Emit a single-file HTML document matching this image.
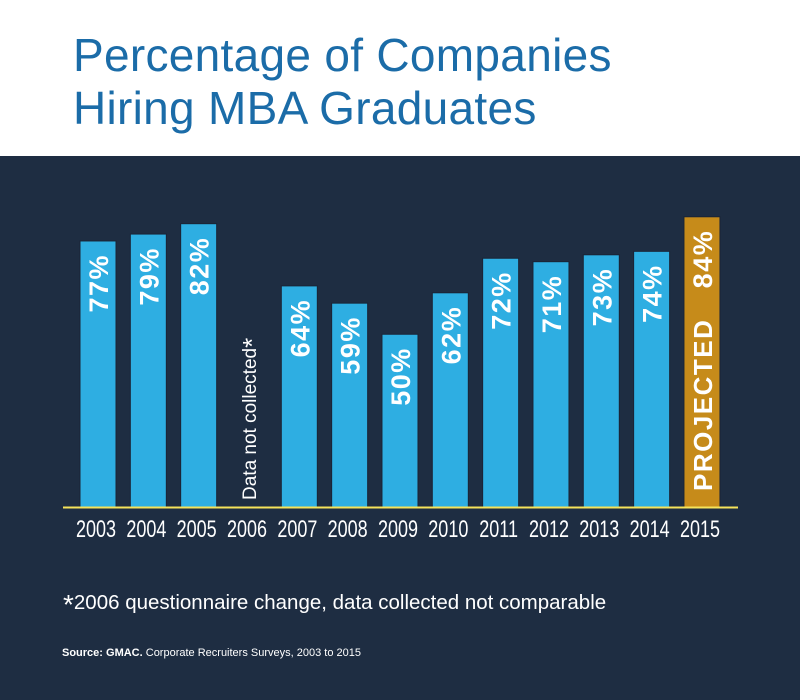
<!DOCTYPE html>
<html><head><meta charset="utf-8"><style>
body{margin:0;width:800px;height:700px;overflow:hidden;font-family:"Liberation Sans",sans-serif}
#hdr{position:absolute;left:0;top:0;width:800px;height:156px;background:#fff}
#hdr h1{position:absolute;left:73px;top:29px;margin:0;font-weight:normal;font-size:46px;line-height:53px;color:#1b6ca8;letter-spacing:0.3px}
#main{position:absolute;left:0;top:156px;width:800px;height:544px;background:#1e2d42}
svg{position:absolute;left:0;top:0}
</style></head><body>
<div id="hdr"><h1>Percentage of Companies<br>Hiring MBA Graduates</h1></div>
<div id="main"></div>
<svg id="chart" width="800" height="700"></svg>
<script>
const years=["2003","2004","2005","2006","2007","2008","2009","2010","2011","2012","2013","2014","2015"];
const values=[77,79,82,null,64,59,50,62,72,71,73,74,84];
const projected=[false,false,false,false,false,false,false,false,false,false,false,false,true];
const NS="http://www.w3.org/2000/svg";
const svg=document.getElementById('chart');
const base=507, scale=3.455, x0=80, step=50.33, bw=36;
const xPos=i=>x0+i*step;
const yPos=v=>base-v*scale;
function mk(t,a){const e=document.createElementNS(NS,t);for(const k in a)e.setAttribute(k,a[k]);svg.appendChild(e);return e;}
years.forEach((yr,i)=>{
  const cx=xPos(i)+bw/2;
  const v=values[i];
  if(v!==null){
    const r=mk('rect',{x:xPos(i),y:yPos(v),width:bw,height:base-yPos(v),fill:projected[i]?'#c68b1a':'#2eaee2',stroke:'#1a2436','stroke-width':1});
    
    
    const t=mk('text',{x:0,y:0,transform:`translate(${cx+10},${yPos(v)+13}) rotate(-90)`,'text-anchor':'end',fill:'#fff','font-size':27,'font-weight':'bold','letter-spacing':1.5});
    t.textContent=v+'%';
    
    
    if(projected[i]){
      const p=mk('text',{x:0,y:0,transform:`translate(${cx+10},${base-16}) rotate(-90)`,'text-anchor':'start',fill:'#fff','font-size':26,'font-weight':'bold','letter-spacing':1.5});
      p.textContent='PROJECTED';
      
      
    }
  } else {
    const n=mk('text',{x:0,y:0,transform:`translate(${cx+7},${base-7}) rotate(-90)`,'text-anchor':'start',fill:'#fff','font-size':19});
    n.innerHTML='Data not collected<tspan font-size="26" dy="5">*</tspan>';
    
    
  }
  const yl=mk('text',{x:0,y:0,transform:`translate(${cx-2},537) scale(0.75,1)`,'text-anchor':'middle',fill:'#fff','font-size':24});
  yl.textContent=yr;
  
  
});
const ax=mk('line',{x1:63,x2:738,y1:507.5,y2:507.5,stroke:'#f5e35a','stroke-width':2});


const fn=mk('text',{x:63,y:609,fill:'#fff','font-size':20.5});
fn.innerHTML='<tspan font-size="28" dy="5">*</tspan><tspan dy="-5">2006 questionnaire change, data collected not comparable</tspan>';


const src=mk('text',{x:62,y:656,fill:'#fff','font-size':11});
src.innerHTML='<tspan font-weight="bold">Source: GMAC.</tspan> Corporate Recruiters Surveys, 2003 to 2015';


</script>
</body></html>
